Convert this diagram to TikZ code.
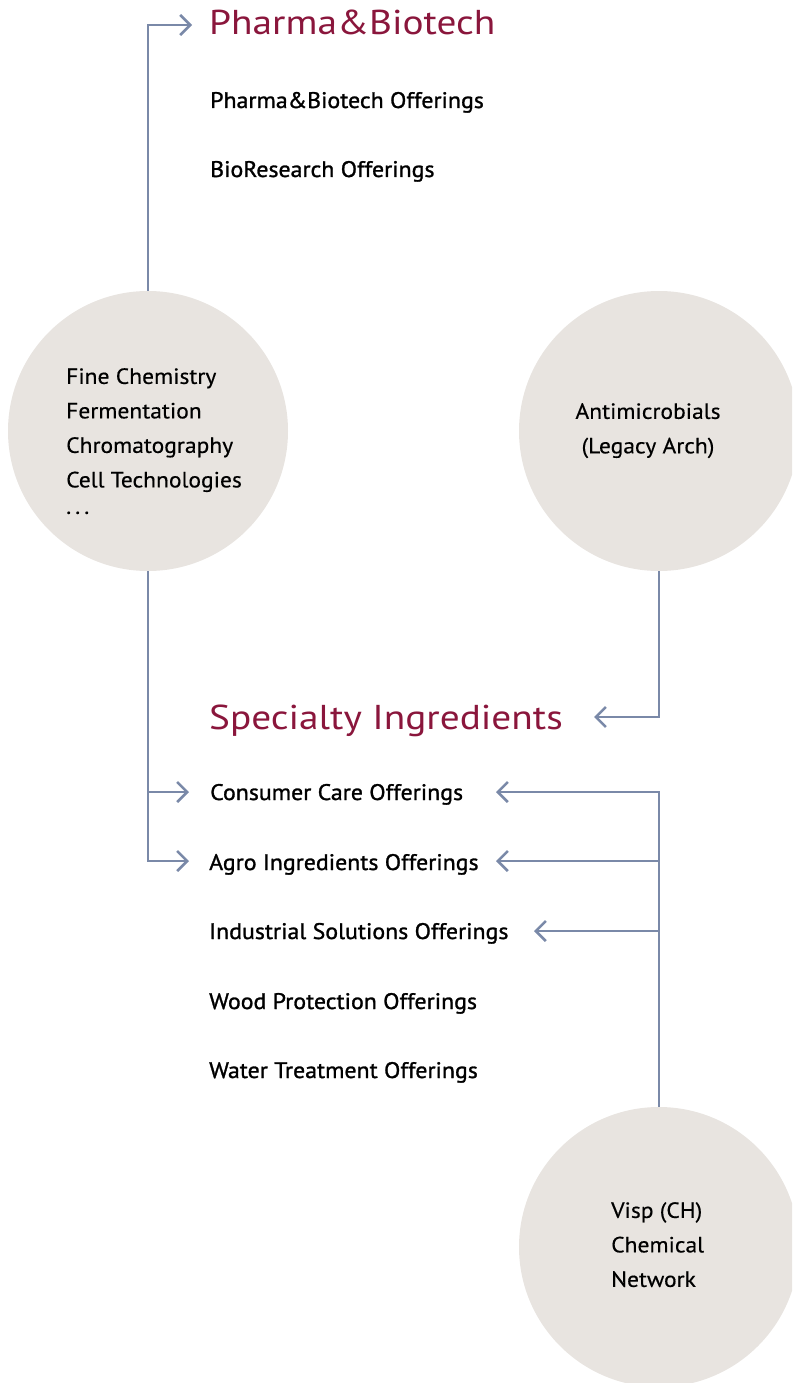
\documentclass[tikz,border=0pt]{standalone}
\usepackage{fontspec}
\setmainfont{PT Sans}
\newfontfamily\titlefont{PT Sans}[FakeStretch=1.14]
\newfontfamily\itemfont{PT Sans}[FakeStretch=1.06,FakeBold=1.2]
\newfontfamily\bubblefont{PT Sans}[FakeStretch=1.07,FakeBold=0.4]
\usetikzlibrary{arrows.meta}
\definecolor{lineblue}{RGB}{122,137,168}
\definecolor{titlered}{RGB}{138,22,60}
\definecolor{circfill}{RGB}{232,228,224}
\begin{document}
\begin{tikzpicture}[x=1pt,y=-1pt,
  conn/.style={draw=lineblue,line width=2.6pt,-{Straight Barb[length=10pt,width=20pt,line width=2.6pt]}},
  bubble/.style={circle,fill=circfill,minimum size=280pt,inner sep=0pt},
  title/.style={anchor=base west,inner sep=0pt,text=titlered,font=\titlefont\fontsize{34.5}{40}\selectfont},
  item/.style={anchor=base west,inner sep=0pt,font=\itemfont\fontsize{22.5}{26}\selectfont},
  btext/.style={inner sep=0pt,font=\bubblefont\fontsize{22}{34.5}\selectfont}
]
\useasboundingbox (0,0) rectangle (792,1383);
\begin{scope}
\clip (0,0) rectangle (792,1383);
\node[bubble] (fc) at (148,431) {};
\node[bubble] (am) at (659,431) {};
\node[bubble] (vc) at (659,1247) {};
\end{scope}

\node[btext,anchor=north west,align=left] (fctext) at (66,368)
  {Fine Chemistry\\Fermentation\\Chromatography\\Cell Technologies\\[-8pt].\hspace{4pt}.\hspace{4pt}.};
\node[btext,anchor=north,align=center] (amtext) at (648,403)
  {Antimicrobials\\(Legacy Arch)};
\node[btext,anchor=north west,align=left] (vctext) at (611,1202)
  {Visp (CH)\\Chemical\\Network};

\node[title] (pb) at (209,35) {Pharma\&Biotech};
\node[item] (pbo) at (210,108) {Pharma\&Biotech Offerings};
\node[item] (bro) at (210,177) {BioResearch Offerings};
\node[title] (si) at (209,729) {Specialty Ingredients};
\node[item] (cc) at (210,800) {Consumer Care Offerings};
\node[item] (ag) at (209,870) {Agro Ingredients Offerings};
\node[item] (is) at (209,939) {Industrial Solutions Offerings};
\node[item] (wp) at (209,1009) {Wood Protection Offerings};
\node[item] (wt) at (209,1078) {Water Treatment Offerings};

\coordinate (tipT) at (192,25);
\coordinate (tipL) at (189,0);
\coordinate (tipS) at (594,717);
\coordinate (tipR) at (496,0);
\coordinate (tipI) at (534,0);
\coordinate (yC) at (0,792);
\coordinate (yA) at (0,861);
\coordinate (yI) at (0,931);

\draw[conn] (fc.north) |- (tipT);
\draw[conn] (fc.south) |- (tipL |- yC);
\draw[conn] (fc.south) |- (tipL |- yA);
\draw[conn] (am.south) |- (tipS);
\draw[conn] (vc.north) |- (tipR |- yC);
\draw[conn] (vc.north) |- (tipR |- yA);
\draw[conn] (vc.north) |- (tipI |- yI);
\end{tikzpicture}
\end{document}
